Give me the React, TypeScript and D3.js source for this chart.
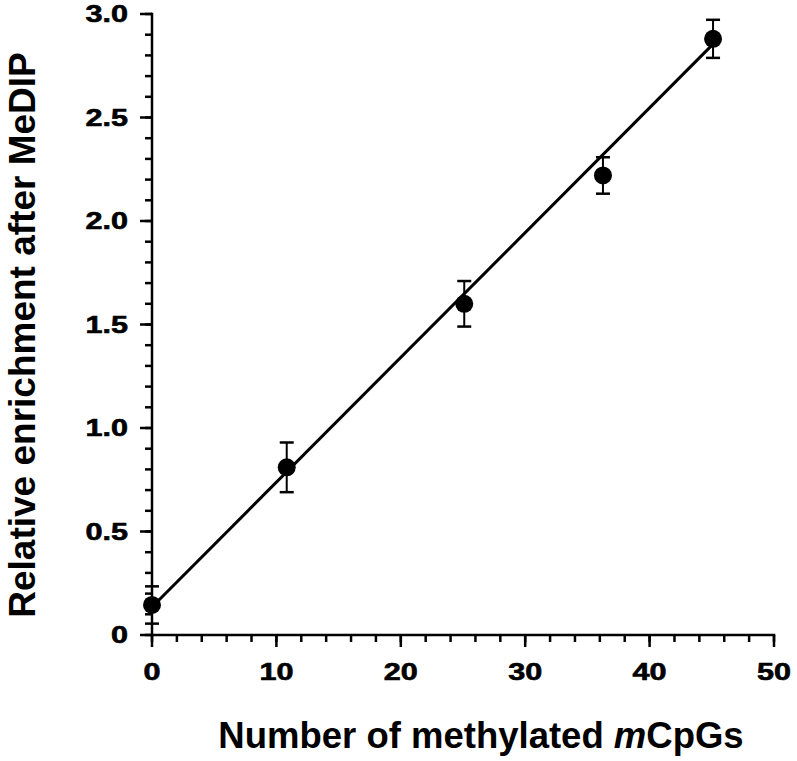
import React from "react";
import * as d3 from "d3";

const xValues = [0, 10.83, 25.1, 36.25, 45.1];
const yValues = [0.145, 0.81, 1.6, 2.22, 2.88];
const yErrors = [0.09, 0.12, 0.11, 0.088, 0.092];
const fitSlope = 0.0603;
const fitIntercept = 0.135;
const fitRange = [0, 45.1];
const xTickValues = [0, 10, 20, 30, 40, 50];
const yTickValues = [0, 0.5, 1.0, 1.5, 2.0, 2.5, 3.0];
const yTickLabels = ["0", "0.5", "1.0", "1.5", "2.0", "2.5", "3.0"];
const xTitleParts = ["Number of methylated ", "m", "CpGs"];
const yTitle = "Relative enrichment after MeDIP";

const W = 797;
const H = 761;
const FONT = "'Liberation Sans', Arial, Helvetica, sans-serif";
const TICK_SX = 1.33;

export default function App() {
  const x = d3.scaleLinear().domain([0, 50]).range([152, 774]);
  const y = d3.scaleLinear().domain([0, 3]).range([635, 14]);
  const xMinor = d3.range(0, 50.001, 2);
  const yMinor = d3.range(0, 3.0001, 0.1);
  const line = d3
    .line<number>()
    .x((d) => x(d))
    .y((d) => y(fitIntercept + fitSlope * d));
  const capW = 7;
  return (
    <svg
      width={W}
      height={H}
      style={{ position: "absolute", left: 0, top: 0, background: "#fff" }}
      fontFamily={FONT}
      fontWeight="bold"
    >
      {/* axes */}
      <line x1={x(0)} x2={x(0)} y1={y(0) + 1.5} y2={y(3) - 1.25} stroke="#000" strokeWidth={2.5} />
      <line x1={x(0) - 1.25} x2={x(50) + 1.25} y1={y(0)} y2={y(0)} stroke="#000" strokeWidth={2.5} />
      {yMinor.map((v, i) => (
        <line key={"ym" + i} x1={x(0) - 7} x2={x(0)} y1={y(v)} y2={y(v)} stroke="#000" strokeWidth={2.5} />
      ))}
      {yTickValues.map((v, i) => (
        <g key={"yt" + i}>
          <line x1={x(0) - 12} x2={x(0)} y1={y(v)} y2={y(v)} stroke="#000" strokeWidth={2.5} />
          <text
            transform={`translate(128, ${y(v)}) scale(${TICK_SX}, 1)`}
            dy="0.36em"
            textAnchor="end"
            fontSize={23}
            stroke="#000"
            strokeWidth={0.6}
          >
            {yTickLabels[i]}
          </text>
        </g>
      ))}
      {xMinor.map((v, i) => (
        <line key={"xm" + i} x1={x(v)} x2={x(v)} y1={y(0)} y2={y(0) + 7} stroke="#000" strokeWidth={2.5} />
      ))}
      {xTickValues.map((v, i) => (
        <g key={"xt" + i}>
          <line x1={x(v)} x2={x(v)} y1={y(0)} y2={y(0) + 12} stroke="#000" strokeWidth={2.5} />
          <text
            transform={`translate(${x(v)}, 680) scale(${TICK_SX}, 1)`}
            textAnchor="middle"
            fontSize={23}
            stroke="#000"
            strokeWidth={0.6}
          >
            {String(v)}
          </text>
        </g>
      ))}
      {/* fit line */}
      <path d={line(fitRange) || ""} fill="none" stroke="#000" strokeWidth={3} />
      {/* error bars and points */}
      {xValues.map((xv, i) => {
        const top = y(yValues[i] + yErrors[i]);
        const bot = y(yValues[i] - yErrors[i]);
        return (
          <g key={"p" + i}>
            <line x1={x(xv)} x2={x(xv)} y1={top} y2={bot} stroke="#000" strokeWidth={2} />
            <line x1={x(xv) - capW} x2={x(xv) + capW} y1={top} y2={top} stroke="#000" strokeWidth={2.5} />
            <line x1={x(xv) - capW} x2={x(xv) + capW} y1={bot} y2={bot} stroke="#000" strokeWidth={2.5} />
            <circle cx={x(xv)} cy={y(yValues[i])} r={9} fill="#000" />
          </g>
        );
      })}
      {/* titles */}
      <text x={481} y={748} textAnchor="middle" fontSize={36.5}>
        {xTitleParts[0]}
        <tspan fontStyle="italic">{xTitleParts[1]}</tspan>
        {xTitleParts[2]}
      </text>
      <text
        transform={`translate(35, ${335}) rotate(-90)`}
        textAnchor="middle"
        fontSize={37}
      >
        {yTitle}
      </text>
    </svg>
  );
}
